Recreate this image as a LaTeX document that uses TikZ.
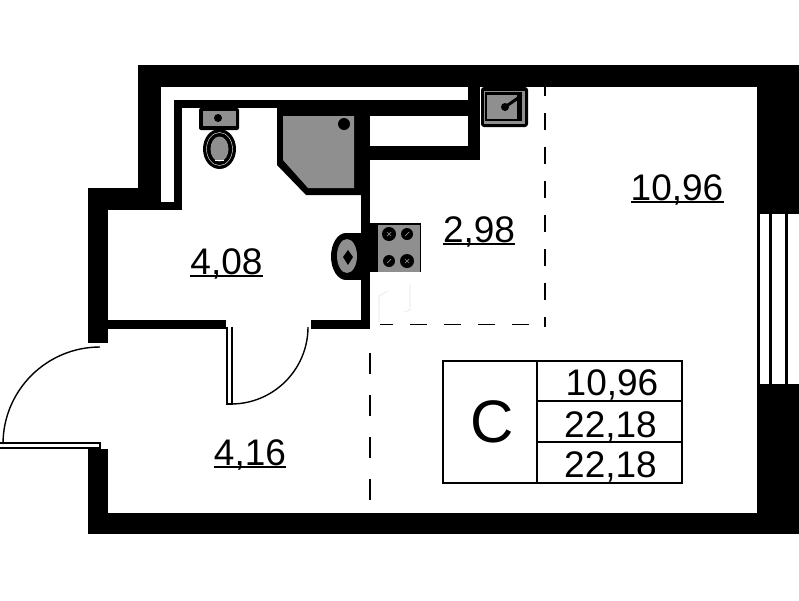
\documentclass[tikz,border=0pt]{standalone}
\usepackage{fontspec}
\setmainfont{Liberation Sans}
\usepackage{xcolor}
\usetikzlibrary{calc}
\definecolor{fixture}{gray}{0.56}

\begin{document}
\begin{tikzpicture}[
    x=1pt,
    y=-1pt,
    wall/.style={fill=black, draw=none},
    gray fixture/.style={fill=fixture, draw=none},
    hole/.style={fill=black, draw=none},
    burnermark/.style={draw=fixture, line width=0.7pt},
    faint/.style={draw=black!10, line width=0.6pt},
    leaf/.style={draw=black, line width=1.7pt},
    swing/.style={draw=black, line width=1.4pt},
    zone/.style={draw=black, line width=1.5pt},
    area/.style={font=\fontsize{37}{37}\selectfont, inner sep=0pt, anchor=base},
    arealine/.style={draw=black, line width=1.3pt},
    cell/.style={font=\fontsize{37}{37}\selectfont, inner sep=0pt, anchor=base},
    frame/.style={draw=black, line width=1.4pt}
]
\useasboundingbox[fill=white] (0,0) rectangle (799,600);

% Outer walls
\path[wall] (138,65) rectangle (799,87);
\path[wall] (138,65) rectangle (161,210);
\path[wall] (88,188) rectangle (161,210);
\path[wall] (88,188) rectangle (108,343);
\path[wall] (88,449) rectangle (108,534);
\path[wall] (88,513) rectangle (799,534);
\path[wall] (757,65) rectangle (799,214);
\path[wall] (757,384) rectangle (799,534);

% Inner walls
\path[wall] (161,202) rectangle (182,210);
\path[wall] (174,100) rectangle (182,210);
\path[wall] (174,100) rectangle (480,108);
\path[wall] (468,87) rectangle (480,160);
\path[wall] (361,100) rectangle (480,116);
\path[wall] (361,146) rectangle (480,160);
\path[wall] (361,100) rectangle (370,329);
\path[wall] (311,320) rectangle (370,329);
\path[wall] (108,320) rectangle (226,329);

% Window
\path[wall] (757,214) rectangle (760,384);
\path[wall] (769,214) rectangle (772,384);
\path[wall] (785,214) rectangle (788,384);

% Shower
\path[wall] (277,108) -- (361,108) -- (361,195) -- (306,195) -- (277,165) -- cycle;
\path[gray fixture] (283,116) -- (354,116) -- (354,188) -- (308,188) -- (283,160) -- cycle;
\path[hole] (344,124) circle (6);

% Toilet
\path[wall, rounded corners=2pt] (199,108) rectangle (239,130);
\path[gray fixture] (203,111) rectangle (236,126);
\path[hole] (218,118) circle (4);
\path[wall] (219.5,149) ellipse (16.5 and 20);
\path[draw=white, line width=0.4pt] (219.5,149) ellipse (13 and 16.5);
\path[gray fixture] (219.5,149) ellipse (9 and 12.5);
\path[draw=white, line width=0.8pt] (215,160) -- (224,160);

% Wash basin
\path[wall] (346,256.5) ellipse (15 and 23.5);
\path[wall] (346,233) rectangle (361,280);
\path[gray fixture] (347,256) ellipse (10 and 17);
\path[hole] (343,257) -- (348,250) -- (353,257) -- (348,265) -- cycle;

% Stove
\path[wall] (370,223) rectangle (421,272);
\path[gray fixture] (378,225) rectangle (420,272);
\path[hole] (389,234) circle (7);
\path[hole] (407,234) circle (6);
\path[hole] (389,261) circle (6);
\path[hole] (407,261) circle (7);
\draw[burnermark] (387,232) -- (391,236) (387,236) -- (391,232);
\draw[burnermark] (405,236) -- (409,232);
\draw[burnermark] (387,263) -- (391,259);
\draw[burnermark] (405,259) -- (409,263) (405,263) -- (409,259);

% Kitchen sink
\path[wall, rounded corners=3pt] (481,87) rectangle (528,127);
\path[gray fixture] (484,91) rectangle (525,124);
\path[wall] (485,92) rectangle (522,121);
\path[gray fixture] (487,95) rectangle (517,119);
\path[hole] (505,107) circle (4);
\draw[line width=3pt, line cap=round] (505,107) -- (521,96);

% Marks near the stove
\draw[faint] (388,291) -- (379,296) -- (379,322);
\draw[faint] (410,284) -- (410,310) -- (404,312);

% Doors
\draw[leaf] (227,327) -- (227,404) -- (232,404) -- (232,327);
\draw[swing] (231,404) arc[start angle=90, end angle=0, radius=77];
\draw[leaf] (-2,443) -- (100,443) -- (100,448) -- (-2,448);
\draw[swing] (100,347) arc[start angle=270, end angle=180, radius=97];

% Zone borders
\draw[zone, dash pattern=on 17pt off 17pt, dash phase=8pt] (545,87) -- (545,327);
\draw[zone, dash pattern=on 17pt off 17pt, dash phase=4pt] (380,324.5) -- (529,324.5);
\draw[zone, dash pattern=on 21pt off 21pt] (370,353) -- (370,513);

% Areas
\node[area] (hall) at (250,465) {4,16};
\node[area] (bath) at (226.5,274) {4,08};
\node[area] (kitchen) at (479,242) {2,98};
\node[area] (room) at (677,200) {10,96};
\draw[arealine] ([yshift=-2pt]hall.base west) -- ([yshift=-2pt]hall.base east);
\draw[arealine] ([yshift=-2pt]bath.base west) -- ([yshift=-2pt]bath.base east);
\draw[arealine] ([yshift=-2pt]kitchen.base west) -- ([yshift=-2pt]kitchen.base east);
\draw[arealine] ([yshift=-2pt]room.base west) -- ([yshift=-2pt]room.base east);

% Summary table
\draw[frame] (443,361) rectangle (682,483);
\draw[frame] (537,361) -- (537,483);
\draw[frame, line width=1.8pt] (537,401) -- (682,401);
\draw[frame, line width=1.8pt] (537,442) -- (682,442);
\node[inner sep=0pt, font=\fontsize{60}{60}\selectfont] (flat) at (492,422) {C};
\node[cell] (living) at (612,395) {10,96};
\node[cell] (total) at (610.5,437) {22,18};
\node[cell] (totalb) at (610.5,477) {22,18};

\end{tikzpicture}
\end{document}
